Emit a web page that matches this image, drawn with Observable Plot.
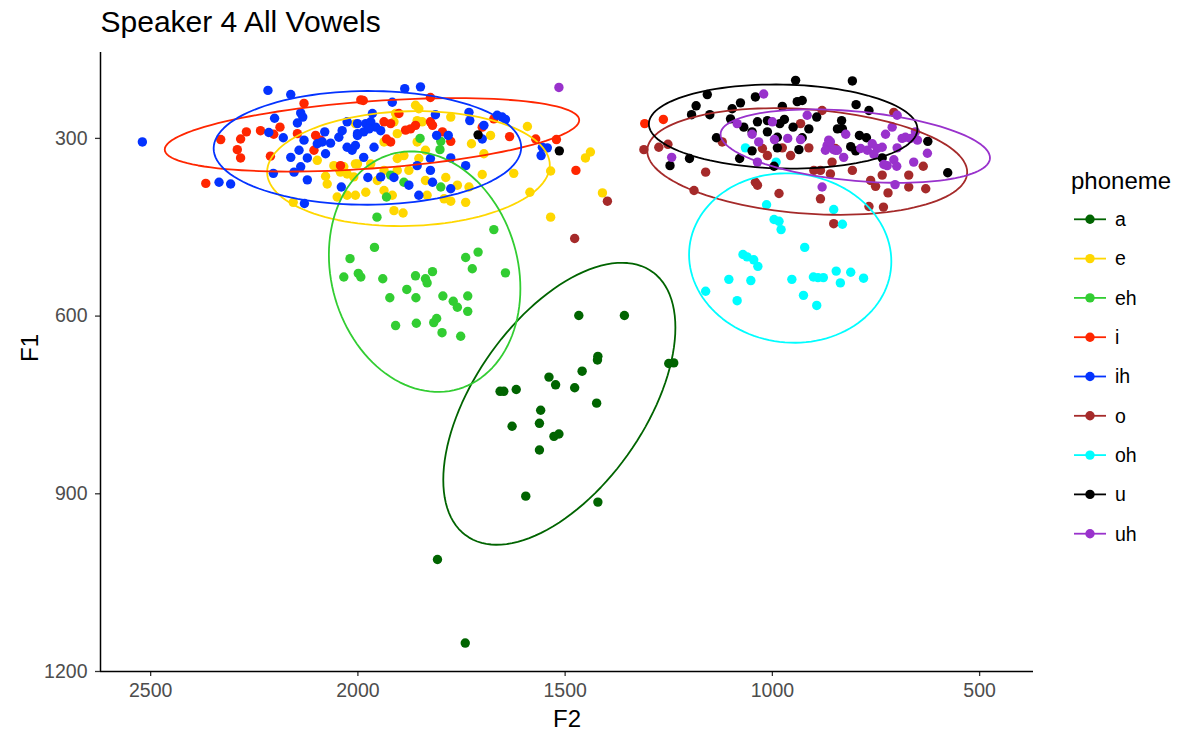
<!DOCTYPE html>
<html><head><meta charset="utf-8">
<script src="https://cdn.jsdelivr.net/npm/d3@7"></script>
<script src="https://cdn.jsdelivr.net/npm/@observablehq/plot@0.6"></script>
<style>
html,body{margin:0;padding:0;background:#fff;}
#chart{position:relative;width:1183px;height:738px;}
</style></head><body><div id="chart"></div>
<script>
const phonemes = ["a","e","eh","i","ih","o","oh","u","uh"];
const colors = ["#006400","#ffd700","#32cd32","#ff2600","#0433ff","#a52a2a","#00fdff","#000000","#9932cc"];

// [F2, F1] per phoneme
const pts_a = [[1467,599],[1357,599],[1421,668],[1422,674],[1250,680],[1238,679],[1459,693],[1539,703],[1523,716],[1477,721],[1657,727],[1648,727],[1618,724],[1424,747],[1559,759],[1562,781],[1628,786],[1527,803],[1515,799],[1562,826],[1595,904],[1421,914],[1808,1011],[1741,1152]];
const pts_e = [[2098,337],[2058,346],[2046,351],[2034,348],[2078,364],[2074,377],[2050,399],[2026,396],[2156,408],[2006,275],[2042,357],[2026,360],[2010,365],[2001,343],[1909,258],[1913,272],[1853,250],[1857,270],[1845,272],[1776,264],[1905,292],[1937,306],[1857,306],[1837,320],[1853,334],[1889,329],[1905,334],[1969,343],[2006,343],[1877,354],[1937,354],[1905,354],[1837,371],[1788,366],[1726,309],[1680,295],[1696,326],[1760,379],[1732,382],[1792,402],[1776,406],[1740,408],[1981,391],[2006,396],[1937,388],[1917,396],[1833,396],[1700,361],[1624,359],[1591,280],[1585,391],[1535,355],[1451,333],[1439,323],[1410,392],[1535,433],[1913,422],[1891,426],[1953,371],[1861,244]];
const pts_eh = [[1850,300],[1800,305],[1802,319],[1921,362],[1889,374],[1931,399],[1800,382],[1954,433],[1672,454],[1960,484],[2019,503],[1740,501],[1710,492],[1724,520],[1644,527],[2034,534],[1999,528],[1993,534],[1940,537],[1861,532],[1820,525],[1837,537],[1833,544],[1882,555],[1923,569],[1860,569],[1795,566],[1735,566],[1770,575],[1760,585],[1735,592],[1909,616],[1859,612],[1817,611],[1810,604],[1797,628],[1752,634]];
const pts_i = [[2367,376],[2331,302],[2283,301],[2269,289],[2291,319],[2283,333],[2235,287],[2211,330],[2188,281],[2203,293],[2130,241],[2146,292],[2102,295],[2090,303],[2106,320],[2042,346],[1993,235],[1987,236],[1825,231],[1937,272],[1921,275],[1885,286],[1873,284],[1861,278],[1825,272],[1820,278],[1796,289],[1776,305],[1931,301],[1921,306],[1901,258],[1672,267],[1634,297],[1571,301],[1521,302],[1474,354],[1700,281],[1308,275],[1263,268]];
const pts_ih = [[2520,306],[2217,219],[2162,226],[2138,257],[2133,264],[2146,274],[2201,266],[2215,290],[2180,299],[2335,374],[2307,377],[2204,359],[2154,357],[2122,370],[2142,320],[2162,332],[2138,348],[2122,333],[2129,410],[2040,382],[2080,289],[2130,303],[2098,309],[2086,306],[2066,308],[2046,298],[2038,287],[2026,315],[2014,320],[2078,326],[2001,292],[2001,275],[2026,272],[1887,216],[1849,213],[1917,239],[1965,258],[1981,275],[1969,272],[1957,281],[1945,287],[1986,289],[1973,284],[2001,295],[2006,312],[1986,332],[1961,315],[1813,260],[1732,256],[1730,270],[1696,278],[1700,301],[1664,261],[1652,264],[1644,268],[1810,295],[1782,295],[1825,334],[1776,333],[1740,346],[1857,346],[1825,354],[1976,366],[1945,365],[1913,366],[1877,379],[1820,374],[1853,396],[1776,385],[1543,316],[1558,329],[1555,315]];
const pts_o = [[1310,319],[1274,315],[1252,310],[1161,357],[1189,388],[1041,374],[1036,379],[984,393],[1024,317],[1012,329],[956,329],[976,316],[912,316],[932,275],[880,253],[884,402],[852,444],[1121,306],[884,354],[707,256],[848,317],[856,340],[807,354],[735,362],[763,371],[751,381],[721,392],[671,362],[636,347],[671,382],[630,385],[767,415],[732,416],[900,354],[860,360],[1398,406],[1477,469]];
const pts_oh = [[1014,412],[996,437],[984,440],[979,454],[852,420],[831,445],[922,484],[1071,496],[1061,500],[1045,505],[1035,516],[1105,538],[1052,540],[1161,558],[1085,574],[953,538],[901,534],[890,535],[877,535],[846,524],[836,544],[811,526],[780,536],[925,565],[893,582],[1065,316],[991,340]];
const pts_u = [[944,202],[1157,226],[1041,230],[1184,245],[1077,240],[1097,250],[976,246],[940,238],[928,236],[1195,260],[1151,260],[1101,267],[1069,281],[1036,272],[1012,270],[982,275],[971,268],[950,281],[912,284],[893,264],[1135,299],[1049,289],[1012,289],[988,298],[928,299],[1049,321],[988,316],[936,319],[1200,334],[1079,334],[1247,346],[996,347],[843,284],[807,203],[798,243],[767,253],[833,270],[831,284],[790,295],[773,299],[811,314],[799,321],[735,333],[625,305],[577,358],[1710,294],[1514,321]];
const pts_uh = [[1021,225],[1000,272],[1085,275],[1049,293],[1033,306],[995,302],[963,300],[932,302],[916,261],[1243,332],[1036,340],[880,382],[864,303],[868,312],[852,319],[872,320],[823,293],[848,320],[828,332],[787,317],[771,320],[759,309],[747,317],[735,315],[755,327],[727,293],[711,281],[699,261],[687,300],[679,298],[667,300],[655,289],[650,303],[699,316],[707,336],[723,346],[700,347],[659,340],[626,325],[704,378],[731,344],[860,306],[843,320],[1515,214]];

// ellipse summaries (center, radii, correlation) per phoneme
const ellF2  = [1514, 1878, 1839, 1966, 1977, 916, 957, 974, 800];
const ellF1  = [748, 351, 525, 294, 316, 339, 502, 280, 313];
const ellR2  = [280, 341, 231, 500, 371, 386, 244, 324, 325];
const ellR1  = [238, 97, 203, 62, 96, 90, 143, 71, 62];
const ellRho = [0.54, 0.06, -0.14, 0.40, 0.01, -0.20, -0.04, -0.06, -0.32];

const xTicks = [2500, 2000, 1500, 1000, 500];
const yTicks = [300, 600, 900, 1200];

const ptsBy = {a: pts_a, e: pts_e, eh: pts_eh, i: pts_i, ih: pts_ih, o: pts_o, oh: pts_oh, u: pts_u, uh: pts_uh};
const rows = [];
for (const p of phonemes) for (const [F2, F1] of ptsBy[p]) rows.push({phoneme: p, F2, F1});

const ellRows = [];
phonemes.forEach((p, k) => {
  const s = Math.sqrt(1 - ellRho[k] * ellRho[k]);
  for (let j = 0; j <= 120; j++) {
    const t = 2 * Math.PI * j / 120;
    ellRows.push({phoneme: p,
      F2: ellF2[k] + ellR2[k] * Math.cos(t),
      F1: ellF1[k] + ellR1[k] * (ellRho[k] * Math.cos(t) + s * Math.sin(t))});
  }
});

const FONT = '"Liberation Sans", Arial, Helvetica, sans-serif';
const plot = Plot.plot({
  width: 1183, height: 738,
  marginLeft: 100, marginRight: 150, marginTop: 52, marginBottom: 67,
  style: {fontFamily: FONT, background: "white", color: "black"},
  x: {domain: [2621, 370]},
  y: {domain: [1200, 155]},
  color: {domain: phonemes, range: colors},
  marks: [
    Plot.axisX({ticks: xTicks, tickFormat: d => String(d), tickSize: 5, tickPadding: 7, fontSize: 19.5, label: null, stroke: "#333", fill: "#4d4d4d", strokeWidth: 1.3}),
    Plot.axisY({ticks: yTicks, tickFormat: d => String(d), tickSize: 5, tickPadding: 8, fontSize: 19.5, label: null, stroke: "#333", fill: "#4d4d4d", strokeWidth: 1.3}),
    Plot.ruleX([2621], {stroke: "black", strokeWidth: 1.5}),
    Plot.ruleY([1200], {stroke: "black", strokeWidth: 1.5}),
    Plot.dot(rows, {x: "F2", y: "F1", fill: "phoneme", r: 4.7}),
    Plot.line(ellRows, {x: "F2", y: "F1", z: "phoneme", stroke: "phoneme", strokeWidth: 1.8}),
    Plot.text(["F2"], {frameAnchor: "bottom", dy: 48, lineAnchor: "middle", fontSize: 24, fill: "black"}),
    Plot.text(["F1"], {frameAnchor: "left", dx: -70, rotate: -90, lineAnchor: "middle", fontSize: 24, fill: "black"}),
    Plot.text(["Speaker 4 All Vowels"], {frameAnchor: "top-left", dy: -20.3, textAnchor: "start", lineAnchor: "bottom", fontSize: 30, fill: "black"})
  ]
});

const svg = d3.select(plot);
const lg = svg.append("g").attr("font-family", FONT).attr("text-anchor", "start");
lg.append("text").attr("x", 1071).attr("y", 189).attr("font-size", 24).attr("fill", "black").text("phoneme");
phonemes.forEach((p, k) => {
  const cy = 219.3 + k * 39.3;
  lg.append("line").attr("x1", 1074).attr("x2", 1106).attr("y1", cy).attr("y2", cy)
    .attr("stroke", colors[k]).attr("stroke-width", 1.8);
  lg.append("circle").attr("cx", 1090).attr("cy", cy).attr("r", 4.7).attr("fill", colors[k]);
  lg.append("text").attr("x", 1115).attr("y", cy).attr("dy", "0.35em").attr("font-size", 19.5)
    .attr("fill", "black").text(p);
});

document.getElementById("chart").appendChild(plot);
</script></body></html>
